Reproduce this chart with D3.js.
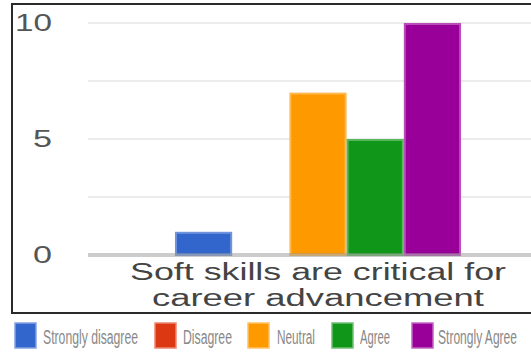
<!DOCTYPE html>
<html><head><meta charset="utf-8">
<script src="https://cdn.jsdelivr.net/npm/d3@7"></script>
<style>html,body{margin:0;padding:0;background:#fff;overflow:hidden}</style>
</head><body>
<svg id="c" width="531" height="353"></svg>
<script>
const categories = ["Soft skills are critical for career advancement"];
const categoryLines = ["Soft skills are critical for", "career advancement"];
const series = ["Strongly disagree", "Disagree", "Neutral", "Agree", "Strongly Agree"];
const values = [1, 0, 7, 5, 10];
const colors = ["#3366cc", "#dc3912", "#ff9900", "#109618", "#990099"];
const yTicks = [0, 5, 10];
const yGrid = [2.5, 5, 7.5, 10];

const svg = d3.select("#c");
const y = d3.scaleLinear().domain([0, 10]).range([255, 23]);
const x0 = d3.scaleBand().domain(categories).range([88, 548]).paddingInner(0).paddingOuter(0.304);
const x1 = d3.scaleBand().domain(series).range([0, x0.bandwidth()]);

// frame
svg.append("rect").attr("x", 12).attr("y", 4).attr("width", 560).attr("height", 309)
  .attr("fill", "#fff").attr("stroke", "#2a2a2a").attr("stroke-width", 2);

// grid
svg.selectAll("line.grid").data(yGrid).join("line")
  .attr("x1", 88).attr("x2", 540).attr("y1", d => y(d)).attr("y2", d => y(d))
  .attr("stroke", "#ececec").attr("stroke-width", 2);

// y tick labels
const tickLen = {0: 19, 5: 19, 10: 37};
svg.selectAll("text.yt").data(yTicks).join("text")
  .attr("x", 52).attr("y", d => y(d) + 8)
  .attr("text-anchor", "end")
  .attr("font-family", "Liberation Sans, Arial, sans-serif")
  .attr("font-size", 23).attr("fill", "#555")
  .attr("textLength", d => tickLen[d]).attr("lengthAdjust", "spacingAndGlyphs")
  .text(d => d);

// bars
const g = svg.append("g").attr("transform", `translate(${x0(categories[0])},0)`);
g.selectAll("rect").data(series.map((s, i) => ({s, v: values[i], c: colors[i]}))).join("rect")
  .attr("x", d => x1(d.s) + 1).attr("width", x1.bandwidth() - 2)
  .attr("y", d => y(d.v) + 1).attr("height", d => Math.max(0, y(0) - y(d.v) - 1))
  .attr("fill", d => d.c)
  .attr("stroke", d => d3.interpolateRgb(d.c, "#fff")(0.3)).attr("stroke-width", 2);

// baseline
svg.append("line").attr("x1", 88).attr("x2", 540).attr("y1", y(0)).attr("y2", y(0))
  .attr("stroke", "#999").attr("stroke-opacity", 0.5).attr("stroke-width", 4);

// category label
const cx = x0(categories[0]) + x0.bandwidth() / 2;
const lineLens = [376, 332];
svg.selectAll("text.cat").data(categoryLines).join("text")
  .attr("x", cx).attr("y", (d, i) => 280 + i * 26)
  .attr("text-anchor", "middle")
  .attr("font-family", "Liberation Sans, Arial, sans-serif")
  .attr("font-size", 23).attr("fill", "#444")
  .attr("textLength", (d, i) => lineLens[i]).attr("lengthAdjust", "spacingAndGlyphs")
  .text(d => d);

// legend
const legX = [15, 155, 248, 332, 412];
const legTextX = [43, 183, 277, 360, 438];
const legTextW = [95, 49, 38, 30, 79];
const lg = svg.append("g");
series.forEach((s, i) => {
  lg.append("rect").attr("x", legX[i]).attr("y", 323).attr("width", 21).attr("height", 25)
    .attr("fill", colors[i]).attr("stroke", d3.interpolateRgb(colors[i], "#fff")(0.4)).attr("stroke-width", 1.5);
  lg.append("text").attr("transform", `translate(${legTextX[i]},344) scale(1,1.7)`)
    .attr("font-family", "Liberation Sans, Arial, sans-serif")
    .attr("font-size", 12).attr("fill", "#888")
    .attr("textLength", legTextW[i]).attr("lengthAdjust", "spacingAndGlyphs")
    .text(s);
});
</script>
</body></html>
